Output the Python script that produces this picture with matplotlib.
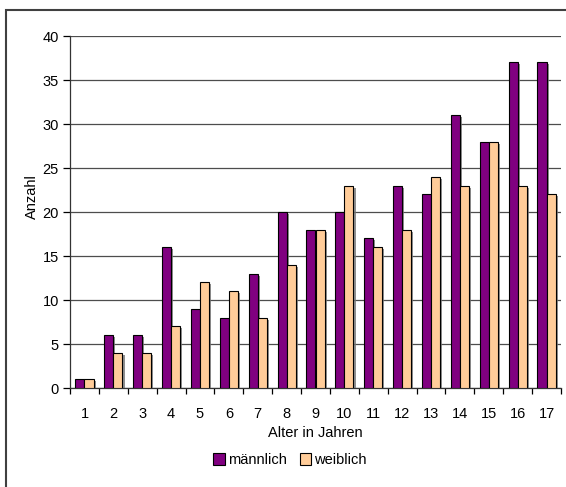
import numpy as np
import matplotlib
matplotlib.use("Agg")
import matplotlib.pyplot as plt
import matplotlib.patheffects as pe
from matplotlib.patches import Rectangle

plt.rcParams["font.family"] = ["Liberation Sans", "DejaVu Sans"]

alter = list(range(1, 18))
maennlich = [1, 6, 6, 16, 9, 8, 13, 20, 18, 20, 17, 23, 22, 31, 28, 37, 37]
weiblich = [1, 4, 4, 7, 12, 11, 8, 14, 18, 23, 16, 18, 24, 23, 28, 23, 22]
farben = ["#800080", "#FFCC99"]

W, H = 566, 487
fig = plt.figure(figsize=(W / 100, H / 100), dpi=100)
ax = fig.add_axes([70 / W, 1 - 388 / H, (561 - 70) / W, (388 - 36) / H])

x = np.arange(len(alter))
bw = 0.315
shadow = [pe.SimplePatchShadow(offset=(1.5, -1.5), shadow_rgbFace="0.45", alpha=0.8), pe.Normal()]
b1 = ax.bar(x - bw / 2, maennlich, bw, color=farben[0], edgecolor="black", linewidth=0.8, zorder=3)
b2 = ax.bar(x + bw / 2, weiblich, bw, color=farben[1], edgecolor="black", linewidth=0.8, zorder=3)
for b in list(b1) + list(b2):
    b.set_path_effects(shadow)

ax.set_xlim(-0.5, len(alter) - 0.5)
ax.set_ylim(0, 40)
ax.set_yticks(range(0, 41, 5))
ax.yaxis.grid(True, color="0.3", linewidth=0.9, zorder=0)
ax.set_axisbelow(True)

ax.set_xticks(x)
ax.set_xticklabels([str(a) for a in alter])
ax.set_xticks(np.arange(-0.5, len(alter), 1), minor=True)
ax.tick_params(axis="x", which="major", length=0, pad=14, labelsize=10.5)
ax.tick_params(axis="x", which="minor", length=4, width=0.9, direction="out")
ax.tick_params(axis="y", length=5, width=0.9, direction="out", labelsize=10.5, pad=3)

for s in ["top", "right"]:
    ax.spines[s].set_visible(False)
for s in ["left", "bottom"]:
    ax.spines[s].set_color("0.2")
    ax.spines[s].set_linewidth(0.9)

ax.set_xlabel("Alter in Jahren", fontsize=10.5, labelpad=3)
ax.set_ylabel("Anzahl", fontsize=10.5)
ax.yaxis.set_label_coords(-0.063, 0.545)

handles = [Rectangle((0, 0), 1, 1, facecolor=c, edgecolor="black", linewidth=0.8) for c in farben]
fig.legend(handles=handles, labels=["männlich", "weiblich"], loc="center",
           bbox_to_anchor=(290 / W, 1 - 460 / H), ncol=2, frameon=False,
           fontsize=10.5, handlelength=0.8, handleheight=0.8, handletextpad=0.2,
           columnspacing=0.9)

# äußerer Diagrammrahmen (rechts und unten abgeschnitten)
fig.patches.append(Rectangle((6 / W, -0.05), 1.2, 1.05 - 10 / H, transform=fig.transFigure,
                             fill=False, edgecolor="0.25", linewidth=1.5))

fig.savefig("out.png", dpi=100)
